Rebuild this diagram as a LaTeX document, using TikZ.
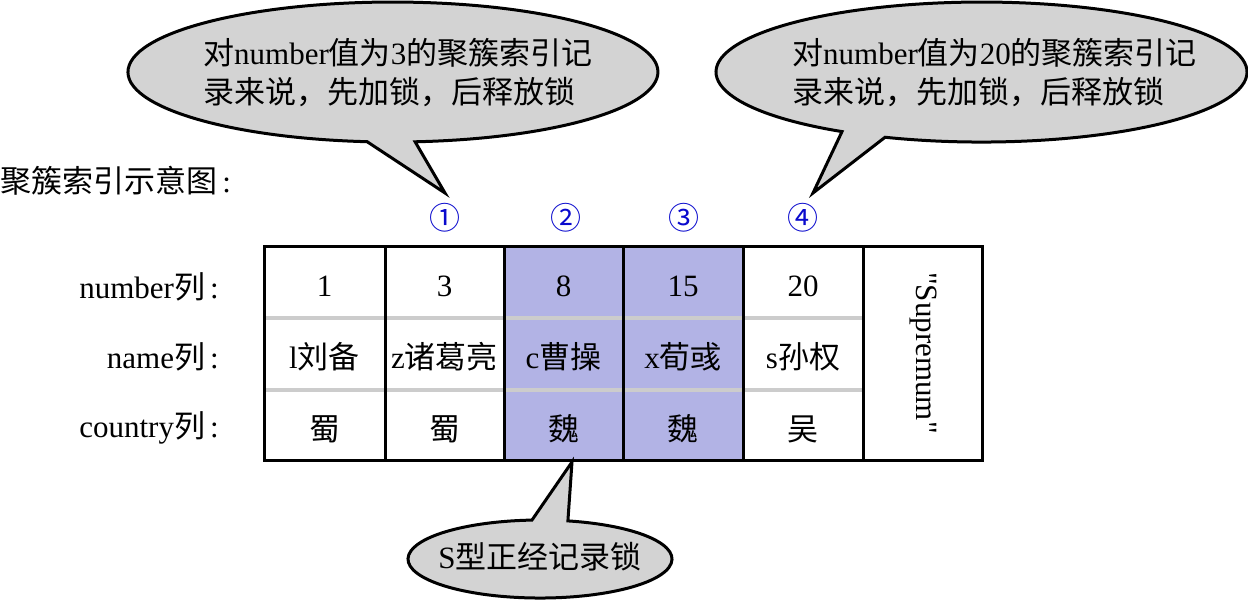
\documentclass[tikz,border=0pt]{standalone}
\usepackage{fontspec}
\setmainfont{Liberation Serif}[Ligatures=TeXOff]
\newfontfamily\cjk{Noto Sans CJK SC}
\newcommand\zh[1]{{\cjk #1}}
\definecolor{calloutgray}{RGB}{211,211,211}
\definecolor{lockblue}{RGB}{178,179,229}
\definecolor{sepgray}{RGB}{204,204,204}
\definecolor{numblue}{RGB}{10,10,205}
\tikzset{
  txt/.style={inner sep=0pt, font=\fontsize{31}{37}\selectfont},
  cellt/.style={txt},
  rowlbl/.style={txt, anchor=east},
  circnum/.style={inner sep=0pt, text=numblue, font=\cjk\fontsize{31}{36}\selectfont},
  callout/.style={fill=calloutgray, draw=black, line width=3pt, line join=miter, miter limit=20},
  tabline/.style={draw=black, line width=3pt},
  sepline/.style={draw=sepgray, line width=4pt},
}
\begin{document}
\begin{tikzpicture}[x=1pt,y=-1pt]
\useasboundingbox (0,0) rectangle (1248,605);

% ---------- table ----------
\fill[lockblue] (504,246) rectangle (743,460);
\foreach \y in {318,390} \draw[sepline] (264,\y) -- (863,\y);
\draw[tabline] (264,246) rectangle (982,460);
\foreach \x in {385,504,623,743,863} \draw[tabline] (\x,246) -- (\x,460);

% title and row labels
\node[txt, anchor=west] (title) at (0,181) {\zh{聚簇索引示意图}\,:};
\node[rowlbl] (lnum)  at (219,287) {number\zh{列}\,:};
\node[rowlbl] (lname) at (219,357) {name\zh{列}\,:};
\node[rowlbl] (lcty)  at (219,428) {country\zh{列}\,:};

% cells
\node[cellt] (n1) at (324.5,286) {1};
\node[cellt] (n2) at (444.5,286) {3};
\node[cellt] (n3) at (563.5,286) {8};
\node[cellt] (n4) at (683,286) {15};
\node[cellt] (n5) at (803,286) {20};
\node[cellt] (m1) at (324.5,357) {l\zh{刘备}};
\node[cellt] (m2) at (444.5,357) {z\zh{诸葛亮}};
\node[cellt] (m3) at (563.5,357) {c\zh{曹操}};
\node[cellt] (m4) at (683,357) {x\zh{荀彧}};
\node[cellt] (m5) at (803,357) {s\zh{孙权}};
\node[cellt] (c1) at (324.5,429) {\zh{蜀}};
\node[cellt] (c2) at (444.5,429) {\zh{蜀}};
\node[cellt] (c3) at (563.5,429) {\zh{魏}};
\node[cellt] (c4) at (683,429) {\zh{魏}};
\node[cellt] (c5) at (803,429) {\zh{吴}};
\node[cellt, rotate=-90] (sup) at (923,353) {"Supremum"};

% circled numbers
\node[circnum] (k1) at (445,218) {①};
\node[circnum] (k2) at (566,218) {②};
\node[circnum] (k3) at (684,218) {③};
\node[circnum] (k4) at (803,218) {④};

% ---------- callout 1 ----------
\coordinate (b1) at (367.1,141.7);
\coordinate (t1) at (445,193);
\draw[callout] (b1) arc[start angle=95.6, end angle=445.2, x radius=265, y radius=70] -- (t1) -- cycle;
\node[txt, anchor=west] (q1a) at (203,53) {\zh{对}number\zh{值为}3\zh{的聚簇索引记}};
\node[txt, anchor=west] (q1b) at (203,92) {\zh{录来说，先加锁，后释放锁}};

% ---------- callout 2 ----------
\coordinate (b2) at (842.0,131.6);
\coordinate (t2) at (813,193);
\draw[callout] (b2) arc[start angle=121.7, end angle=471.3, x radius=265.5, y radius=70] -- (t2) -- cycle;
\node[txt, anchor=west] (q2a) at (792,53) {\zh{对}number\zh{值为}20\zh{的聚簇索引记}};
\node[txt, anchor=west] (q2b) at (792,92) {\zh{录来说，先加锁，后释放锁}};

% ---------- callout 3 ----------
\coordinate (b3) at (567.9,520.9);
\coordinate (t3) at (572,462);
\draw[callout] (b3) arc[start angle=282.2, end angle=626.5, x radius=132, y radius=39] -- (t3) -- cycle;
\node[txt] (q3) at (540,557) {S\zh{型正经记录锁}};
\end{tikzpicture}
\end{document}
